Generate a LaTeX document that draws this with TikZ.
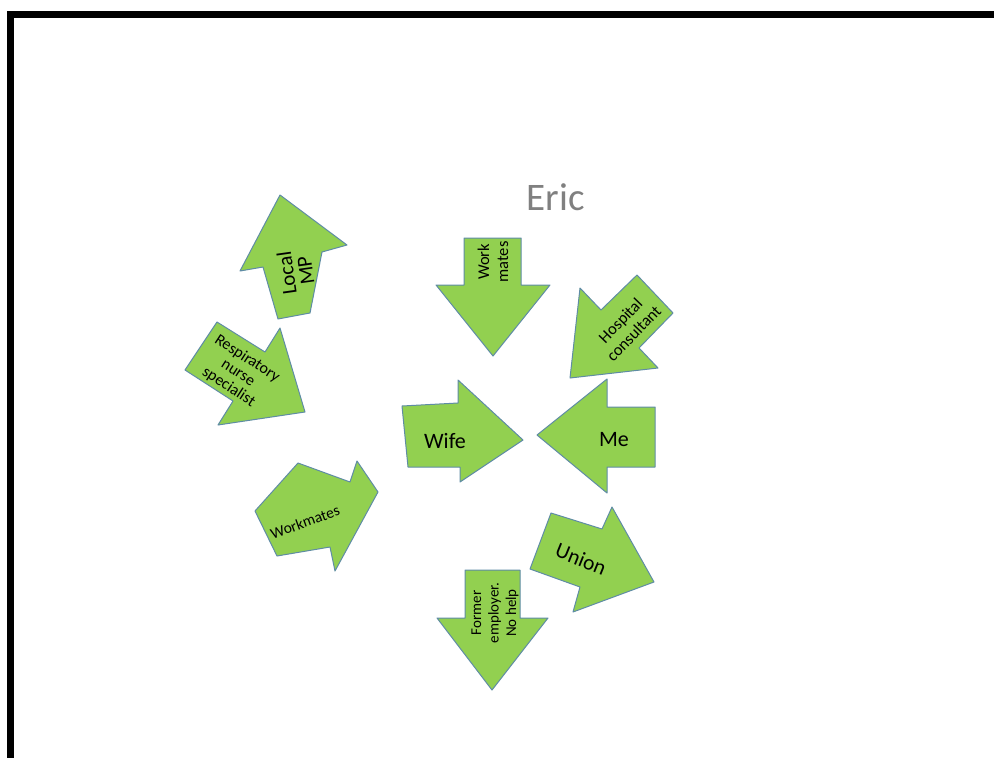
\documentclass[tikz,border=0pt]{standalone}
\usepackage{fontspec}
\setmainfont{Carlito}
\definecolor{agreen}{RGB}{146,208,80}
\definecolor{aedge}{RGB}{95,140,165}
\definecolor{egray}{RGB}{128,128,128}
\begin{document}
\begin{tikzpicture}[x=1pt,y=-1pt,
  garrow/.style={fill=agreen,draw=aedge,line width=1pt,line join=round},
  lbl/.style={align=center,inner sep=0pt,text=black}]
\useasboundingbox (0,0) rectangle (994,758);
\fill[white] (0,0) rectangle (994,758);
\draw[line width=7pt,line join=miter] (10.5,758) -- (10.5,14.5) -- (994,14.5);

% arrows
\draw[garrow] (280,195) -- (347,245) -- (322,252) -- (310,313) -- (278,319) -- (263,267) -- (240,271) -- cycle;
\draw[garrow] (217,322) -- (265,352) -- (280,328) -- (305,412) -- (218,425) -- (233,401) -- (185,370) -- cycle;
\draw[garrow] (464,238) -- (521,238) -- (521,285) -- (550,285) -- (493,356) -- (436,285) -- (464,285) -- cycle;
\draw[garrow] (570,378) -- (580,288) -- (601,310) -- (637,275) -- (673,313) -- (639,348) -- (658,368) -- cycle;
\draw[garrow] (402,406) -- (458,403) -- (458,380) -- (523,440) -- (460,482) -- (460,467) -- (408,467) -- cycle;
\draw[garrow] (537,435) -- (607,379) -- (607,407) -- (655,407) -- (655,467) -- (607,467) -- (607,493) -- cycle;
\draw[garrow] (551,513) -- (602,529) -- (612,507) -- (654,582) -- (573,612) -- (580,587) -- (530,569) -- cycle;
\draw[garrow] (465,570) -- (520,570) -- (520,618) -- (548,618) -- (492,690) -- (437,618) -- (465,618) -- cycle;
\draw[garrow] (298,463) -- (350,482) -- (357,461) -- (378,492) -- (335,571) -- (330,547) -- (277,556) -- (255,511) -- cycle;

% labels
\node[lbl,text=egray,font={\fontsize{39}{44}\selectfont}] (eric) at (556,197) {Eric};
\node[lbl,rotate=90,font={\fontsize{16.5}{19}\selectfont}] (workmatesA) at (493,262) {Work\\mates};
\node[lbl,rotate=46,font={\fontsize{16.5}{18.5}\selectfont}] (hospital) at (627,327) {Hospital\\consultant};
\node[lbl,rotate=98,font={\fontsize{21}{19}\selectfont}] (localmp) at (296,272) {Local\\MP};
\node[lbl,rotate=-33,font={\fontsize{16}{17}\selectfont}] (nurse) at (238,373) {Respiratory\\nurse\\specialist};
\node[lbl,font={\fontsize{22}{25}\selectfont}] (wife) at (445,441) {Wife};
\node[lbl,font={\fontsize{22}{25}\selectfont}] (me) at (614,440) {Me};
\node[lbl,rotate=20,font={\fontsize{15.5}{18}\selectfont}] (workmatesB) at (305,522) {Workmates};
\node[lbl,rotate=-22,font={\fontsize{21.5}{25}\selectfont}] (union) at (581,559) {Union};
\node[lbl,rotate=90,font={\fontsize{15}{17.5}\selectfont}] (former) at (495,613) {Former\\employer.\\No help};
\end{tikzpicture}
\end{document}
